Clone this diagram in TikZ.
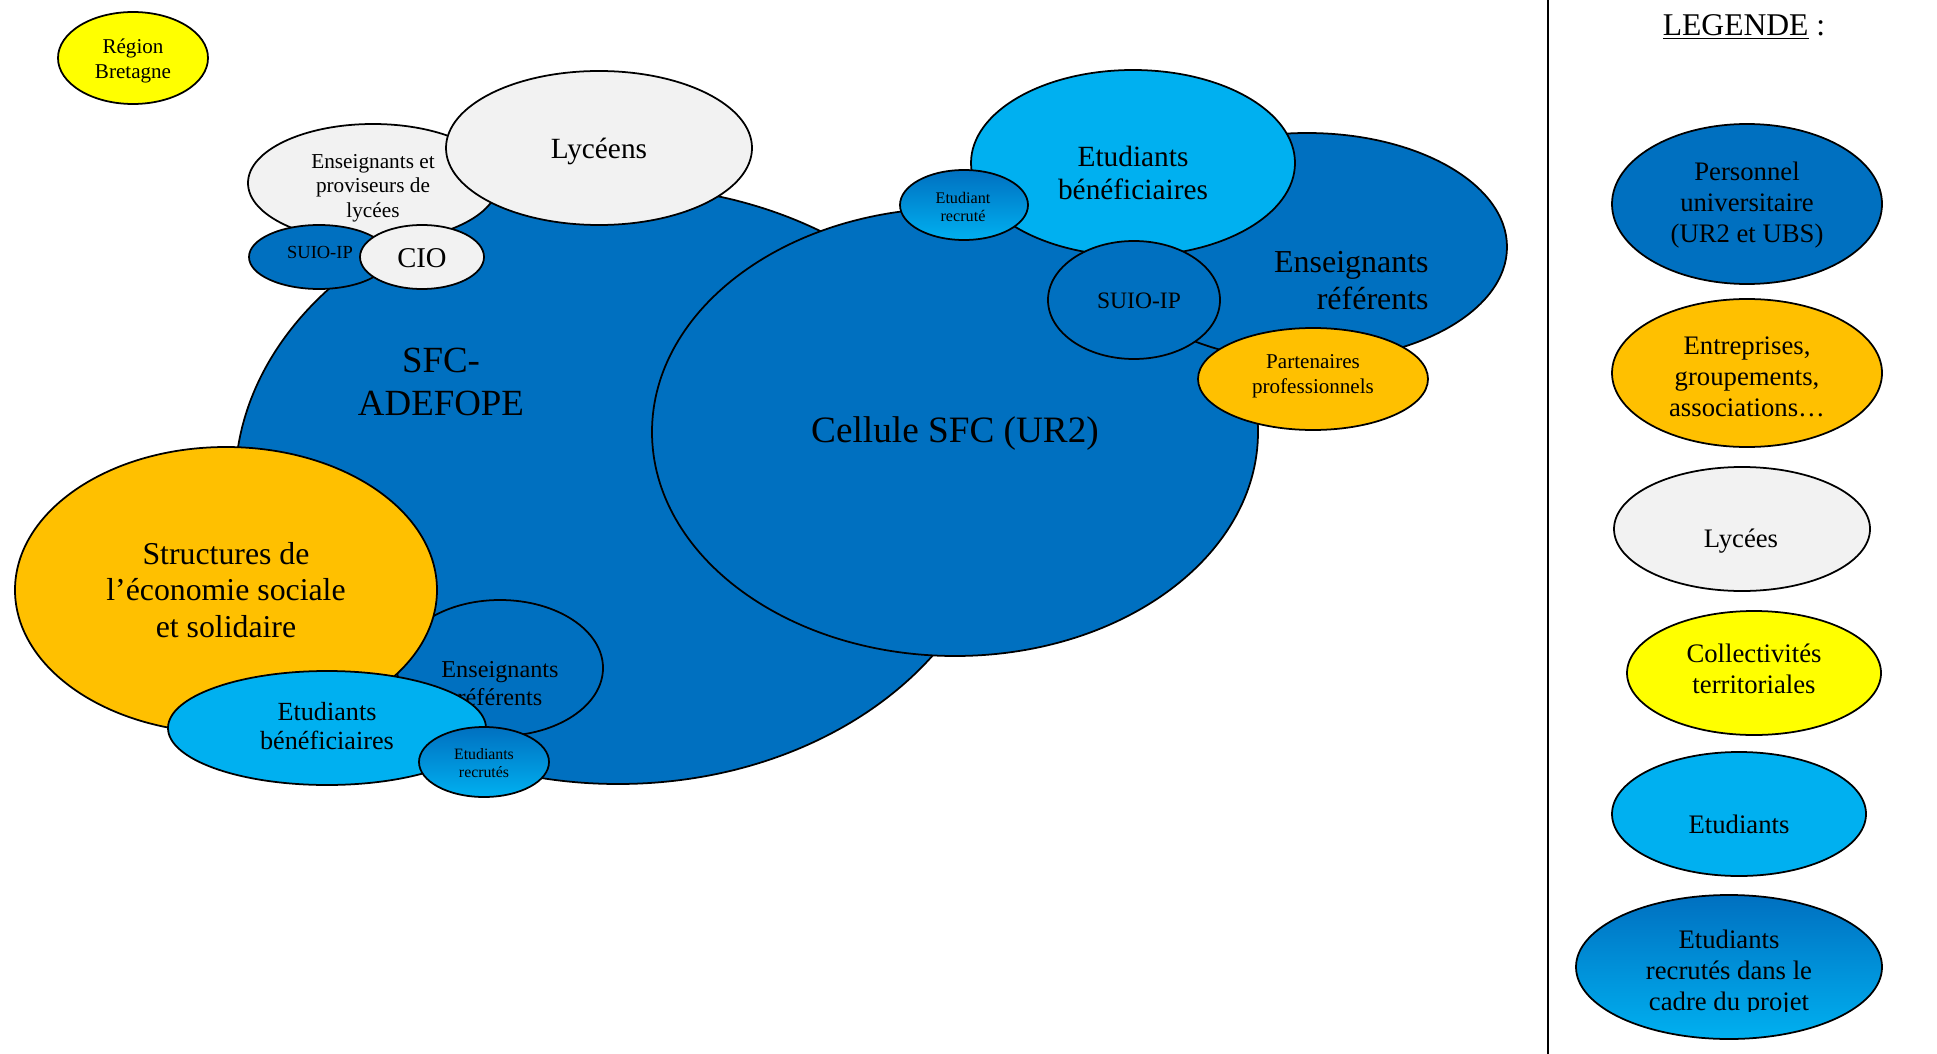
\documentclass[tikz,border=0pt]{standalone}
\usepackage{fontspec}
\setmainfont{Liberation Serif}
\usepackage{tikz}
\usetikzlibrary{positioning}
\definecolor{bleufonce}{HTML}{0070C0}
\definecolor{bleuclair}{HTML}{00B0F0}
\definecolor{ocre}{HTML}{FFC000}
\definecolor{jaune}{HTML}{FFFF00}
\definecolor{gris}{HTML}{F2F2F2}
\tikzset{bulle/.style={draw=black, line width=1pt}, recrue/.style={bulle, top color=bleufonce, bottom color=bleuclair}}
\newcommand{\taille}[2]{\fontsize{#1}{#2}\selectfont}

\begin{document}
\begin{tikzpicture}[x=0.02cm, y=-0.02cm]
              \useasboundingbox (0,0) rectangle (1937,1054);

                  \filldraw[bulle, fill=jaune] (133,58) ellipse (75 and 46);
                  \node (region) at (133,61) [align=center, font=\taille{12}{13.9}] {Région\\Bretagne};

                 % SFC-ADEFOPE
                 \filldraw[bulle, fill=bleufonce] (618,485) ellipse (383 and 299);
                 \node (sfc) at (441,382) [align=center, font=\taille{21}{24}] {SFC-\\ADEFOPE};

                 \filldraw[bulle, fill=gris] (373,183) ellipse (125 and 59);
                 \node (profs) at (373,188) [align=center, font=\taille{12.1}{14}] {Enseignants et\\proviseurs de\\lycées};
                 \filldraw[bulle, fill=bleufonce] (319,257) ellipse (70 and 32);
                 \node (suiog) at (320,252) [font=\taille{10.5}{12}] {SUIO-IP};
                 \filldraw[bulle, fill=gris] (422,257) ellipse (62 and 32);
                 \node (cio) at (422,258) [font=\taille{16.3}{18.7}] {CIO};

                 \filldraw[bulle, fill=gris] (599,148) ellipse (153 and 77);
                 \node (lyceens) at (599,151) [font=\taille{16.7}{19.2}] {Lycéens};

                 % Cellule SFC
                 \filldraw[bulle, fill=bleufonce] (955,432) ellipse (303 and 224);
                 \node (cellule) at (955,434) [font=\taille{21.2}{24.4}] {Cellule SFC (UR2)};

                  \filldraw[bulle, fill=bleufonce] (1307,247) ellipse (200 and 114);
                  \node (ensd) at (1429,281) [anchor=east, inner sep=0pt, align=right, font=\taille{18.2}{21}] {Enseignants\\référents};
                  \filldraw[bulle, fill=bleuclair] (1133,163) ellipse (162 and 93);
                  \node (etudh) at (1133,173) [align=center, font=\taille{16.7}{19.2}] {Etudiants\\bénéficiaires};
                  \filldraw[bulle, fill=bleufonce] (1134,300) ellipse (86 and 59);
                  \node (suiod) at (1139,301) [font=\taille{13.4}{15.4}] {SUIO-IP};
                  \filldraw[recrue] (964,205) ellipse (64 and 35);
                  \node (recrueh) at (963,207) [align=center, font=\taille{9.2}{10.6}] {Etudiant\\recruté};
                  \filldraw[bulle, fill=ocre] (1313,379) ellipse (115 and 51);
                  \node (partenaires) at (1313,376) [align=center, font=\taille{12}{14.2}] {Partenaires\\professionnels};

                 % en bas a gauche
                 \filldraw[bulle, fill=bleufonce] (500,668) ellipse (103 and 68);
                 \node (ensb) at (500,684) [align=center, font=\taille{13.8}{16}] {Enseignants\\référents};
                 \filldraw[bulle, fill=ocre] (226,590) ellipse (211 and 143);
                 \node (ess) at (226,590) [align=center, font=\taille{18.1}{20.8}] {Structures de\\l’économie sociale\\et solidaire};
                 \filldraw[bulle, fill=bleuclair] (327,728) ellipse (159 and 57);
                 \node (etudb) at (327,726) [align=center, font=\taille{14.9}{17}] {Etudiants\\bénéficiaires};
                 \filldraw[recrue] (484,762) ellipse (65 and 35);
                 \node (recrueb) at (484,763) [align=center, font=\taille{9}{10.4}] {Etudiants\\recrutés};

           % legende
           \draw[line width=1pt] (1548,0) -- (1548,1054);
           \node (legende) at (1744,27) [font=\taille{18}{20.7}] {\underline{LEGENDE} :};

                   \filldraw[bulle, fill=bleufonce] (1747,204) ellipse (135 and 80);
                   \node (lperso) at (1747,205) [align=center, font=\taille{15.2}{17.5}] {Personnel\\universitaire\\(UR2 et UBS)};
                   \filldraw[bulle, fill=ocre] (1747,373) ellipse (135 and 74);
                   \node (lentr) at (1747,377) [align=center, font=\taille{15.2}{17.5}] {Entreprises,\\groupements,\\associations…};
                   \filldraw[bulle, fill=gris] (1742,529) ellipse (128 and 62);
                   \node (llycees) at (1741,541) [font=\taille{15.2}{17.5}] {Lycées};
                   \filldraw[bulle, fill=jaune] (1754,673) ellipse (127 and 62);
                   \node (lcollec) at (1754,669) [align=center, font=\taille{15.2}{17.5}] {Collectivités\\territoriales};
                   \filldraw[bulle, fill=bleuclair] (1739,814) ellipse (127 and 62);
                   \node (letud) at (1739,824) [font=\taille{15.2}{17.5}] {Etudiants};
                   \filldraw[recrue] (1729,967) ellipse (153 and 72);
                   \begin{scope}
                   \clip (1560,900) rectangle (1937,1011);
                   \node (lrecrue) at (1729,973) [align=center, font=\taille{15.2}{17.5}] {Etudiants\\recrutés dans le\\cadre du projet};
                   \end{scope}

\end{tikzpicture}
\end{document}
